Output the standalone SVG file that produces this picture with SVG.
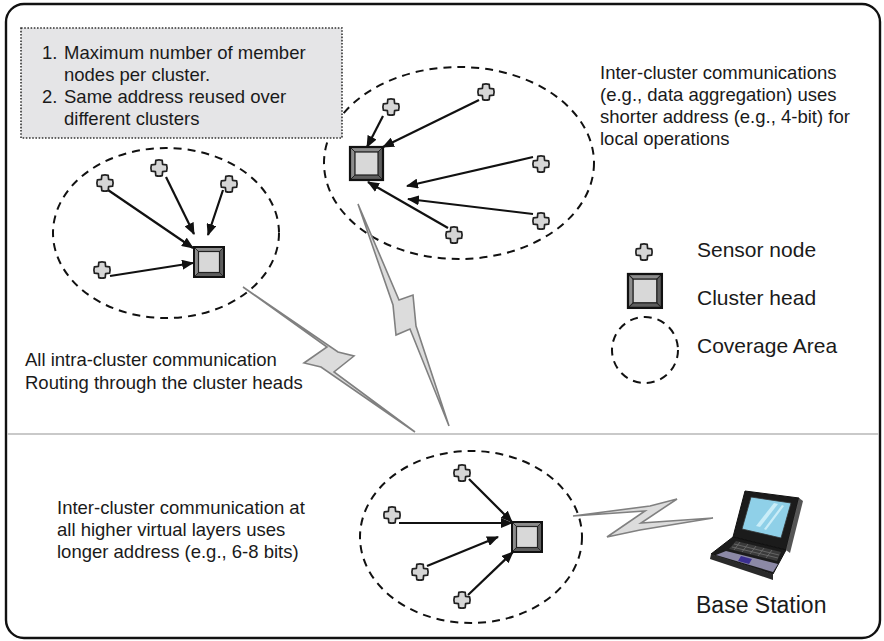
<svg xmlns="http://www.w3.org/2000/svg" xmlns:xlink="http://www.w3.org/1999/xlink" width="884" height="641" viewBox="0 0 884 641">
  <style>
    .txt { font-family: "Liberation Sans", Arial, Helvetica, sans-serif; font-size: 18.5px; fill: #1a1a1a; }
    .lg { font-size: 21px; }
    .bs { font-size: 23px; }
    .area { fill: none; stroke: #111; stroke-width: 2; stroke-dasharray: 8 6; }
    .link { stroke: #111; stroke-width: 2.2; fill: none; marker-end: url(#ah); }
    .bolt { fill: #dcdcdc; stroke: #808080; stroke-width: 1.6; stroke-linejoin: miter; }
  </style>
  <defs>
    <marker id="ah" viewBox="0 0 12 10" refX="11" refY="5" markerWidth="12" markerHeight="10" markerUnits="userSpaceOnUse" orient="auto">
      <path d="M0,0 L12,5 L0,10 z" fill="#111"/>
    </marker>
    <!-- sensor node: rounded plus -->
    <path id="sn" d="M-3.2,-7.6 Q0,-8.6 3.2,-7.6 L3.6,-3.6 L7.6,-3.2 Q8.6,0 7.6,3.2 L3.6,3.6 L3.2,7.6 Q0,8.6 -3.2,7.6 L-3.6,3.6 L-7.6,3.2 Q-8.6,0 -7.6,-3.2 L-3.6,-3.6 Z" fill="#d6d6d6" stroke="#222" stroke-width="1.7" stroke-linejoin="round"/>
    <!-- cluster head: bevelled square, 30 x 30 -->
    <g id="ch">
      <rect x="0" y="0" width="30" height="30" fill="#5e5e5e" stroke="#111" stroke-width="1.6"/>
      <path d="M0,0 L30,0 L25.5,4.5 L4.5,4.5 L4.5,25.5 L0,30 Z" fill="#8c8c8c"/>
      <rect x="4.5" y="4.5" width="21" height="21" fill="#d8d8d8" stroke="#222" stroke-width="1.2"/>
      <path d="M0.5,0.5 L4.5,4.5 M29.5,0.5 L25.5,4.5 M29.5,29.5 L25.5,25.5 M0.5,29.5 L4.5,25.5" stroke="#222" stroke-width="0.9"/>
      <rect x="0" y="0" width="30" height="30" fill="none" stroke="#111" stroke-width="2"/>
    </g>
  </defs>

  <!-- outer frame and layer divider -->
  <rect x="6" y="4" width="874" height="634" rx="18" ry="18" fill="#fff" stroke="#111" stroke-width="2.4"/>
  <line x1="7" y1="434" x2="879" y2="434" stroke="#c9c9c9" stroke-width="2"/>

  <!-- coverage areas -->
  <g id="areas">
    <ellipse class="area" cx="166" cy="233" rx="113" ry="85"/>
    <ellipse class="area" cx="459" cy="163" rx="135" ry="96"/>
    <ellipse class="area" cx="471" cy="537" rx="111" ry="86"/>
  </g>

  <!-- radio links -->
  <g id="radio">
    <polygon class="bolt" points="243,287 338,352 354,356 334,372 415,432 321,367 304,363 327,347"/>
    <polygon class="bolt" points="358,204 399,300 413,295 416,326 449,426 410,329 396,335 393,305"/>
    <polygon class="bolt" points="573,516 650,506 677,499 641,523 713,518 640,530 607,537 645,511"/>
  </g>

  <!-- note box -->
  <g id="note">
    <rect x="21" y="28" width="321" height="110" fill="#e5e5e7" stroke="#333" stroke-width="1.6" stroke-dasharray="1.6 1.6"/>
    <text class="txt" x="42" y="59">1.</text>
    <text class="txt" x="64" y="59">Maximum number of member</text>
    <text class="txt" x="64" y="81">nodes per cluster.</text>
    <text class="txt" x="42" y="103">2.</text>
    <text class="txt" x="64" y="103">Same address reused over</text>
    <text class="txt" x="64" y="125">different clusters</text>
  </g>

  <!-- connectors: member nodes to their cluster heads -->
  <g id="connectors">
    <line class="link" x1="108" y1="190" x2="193" y2="248"/>
    <line class="link" x1="166" y1="177" x2="194" y2="234"/>
    <line class="link" x1="223" y1="190" x2="208" y2="235"/>
    <line class="link" x1="110" y1="276" x2="193" y2="263"/>

    <line class="link" x1="383" y1="116" x2="367" y2="147"/>
    <line class="link" x1="479" y1="100" x2="383" y2="147"/>
    <line class="link" x1="533" y1="157" x2="407" y2="186"/>
    <line class="link" x1="533" y1="214" x2="408" y2="199"/>
    <line class="link" x1="448" y1="228" x2="368" y2="182"/>

    <line class="link" x1="469" y1="479" x2="512" y2="522"/>
    <line class="link" x1="399" y1="523" x2="512" y2="523"/>
    <line class="link" x1="427" y1="566" x2="498" y2="537"/>
    <line class="link" x1="468" y1="595" x2="513" y2="552"/>
  </g>

  <!-- cluster A (left) -->
  <g id="cluster-a">
    <use id="a-head" href="#ch" x="194" y="247"/>
    <use id="a-n1" href="#sn" x="105" y="183"/>
    <use id="a-n2" href="#sn" x="159" y="168"/>
    <use id="a-n3" href="#sn" x="229" y="184"/>
    <use id="a-n4" href="#sn" x="102" y="270"/>
  </g>

  <!-- cluster B (top) -->
  <g id="cluster-b">
    <use id="b-head" href="#ch" transform="translate(350,147) scale(1.1)"/>
    <use id="b-n1" href="#sn" x="391" y="107"/>
    <use id="b-n2" href="#sn" x="486" y="92"/>
    <use id="b-n3" href="#sn" x="541" y="164"/>
    <use id="b-n4" href="#sn" x="541" y="221"/>
    <use id="b-n5" href="#sn" x="454" y="235"/>
  </g>

  <!-- cluster C (upper layer) -->
  <g id="cluster-c">
    <use id="c-head" href="#ch" x="512" y="522"/>
    <use id="c-n1" href="#sn" x="462" y="473"/>
    <use id="c-n2" href="#sn" x="392" y="515"/>
    <use id="c-n3" href="#sn" x="420" y="572"/>
    <use id="c-n4" href="#sn" x="462" y="600"/>
  </g>

  <!-- base station laptop -->
  <g id="base-station">
    <polygon points="745,491 799,498 786,550 733,537" fill="#1b1b1b" stroke="#111" stroke-width="1"/>
    <polygon points="799,498 803,501 790,553 786,550" fill="#555"/>
    <polygon points="751,497 791,503 781,538 742,529" fill="#8fd0e8" stroke="#333" stroke-width="0.8"/>
    <polygon points="756,526 774,503 778,504 760,527" fill="#c9edf8"/>
    <polygon points="764,529 782,505 784,506 766,530" fill="#c9edf8"/>
    <polygon points="733,537 786,550 773,574 711,554" fill="#1b1b1b" stroke="#111" stroke-width="1"/>
    <polygon points="711,554 773,574 773,580 710,559" fill="#2a2a2a"/>
    <polygon points="736,541 781,552 777,561 729,549" fill="#3a3a3a"/>
    <path d="M734,544 L779,555 M732,547 L778,558 M740,542 L734,550 M748,544 L742,552 M756,546 L750,554 M764,548 L758,556 M772,550 L766,558" stroke="#777" stroke-width="0.7"/>
    <polygon points="726,551 778,564 773,572 716,555" fill="#8c89a6"/>
    <polygon points="741,556 752,559 749,564 738,561" fill="#3b2f91"/>
    <text class="txt bs" x="696" y="613">Base Station</text>
  </g>

  <!-- legend -->
  <g id="legend">
    <use href="#sn" x="644" y="252"/>
    <text class="txt lg" x="697" y="257">Sensor node</text>
    <use href="#ch" transform="translate(628,274) scale(1.13)"/>
    <text class="txt lg" x="697" y="305">Cluster head</text>
    <circle class="area" cx="645" cy="350" r="33"/>
    <text class="txt lg" x="697" y="353">Coverage Area</text>
  </g>

  <!-- annotations -->
  <g id="notes">
    <text class="txt" x="600" y="79">Inter-cluster communications</text>
    <text class="txt" x="600" y="101">(e.g., data aggregation) uses</text>
    <text class="txt" x="600" y="123">shorter address (e.g., 4-bit) for</text>
    <text class="txt" x="600" y="145">local operations</text>

    <text class="txt" x="25" y="366">All intra-cluster communication</text>
    <text class="txt" x="25" y="389">Routing through the cluster heads</text>

    <text class="txt" x="57" y="514">Inter-cluster communication at</text>
    <text class="txt" x="57" y="536">all higher virtual layers uses</text>
    <text class="txt" x="57" y="558">longer address (e.g., 6-8 bits)</text>
  </g>
</svg>
